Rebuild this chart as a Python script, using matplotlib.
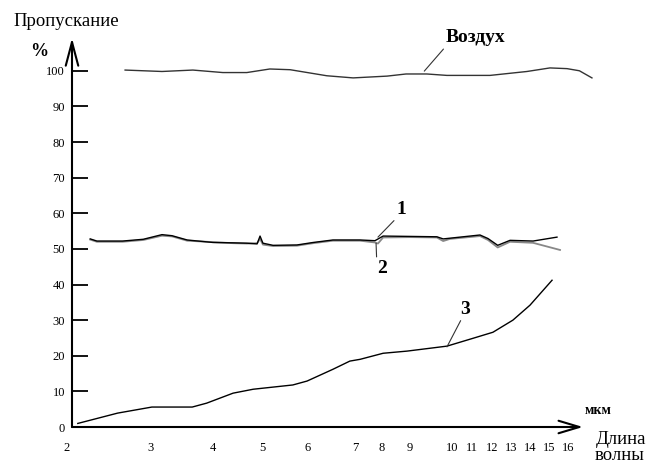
import numpy as np
import matplotlib.pyplot as plt

plt.rcParams["font.family"] = ["Liberation Serif", "DejaVu Serif"]

# wavelength ticks (мкм), hand-drawn axis so spacing is irregular
tick_wl = [2, 3, 4, 5, 6, 7, 8, 9, 10, 11, 12, 13, 14, 15, 16]
y_ticks = [0, 10, 20, 30, 40, 50, 60, 70, 80, 90, 100]

# Воздух
air_wl = [2.70, 3.19, 3.68, 4.20, 4.69, 5.17, 5.61, 6.40, 6.96, 8.18,
          8.86, 9.40, 9.88, 11.9, 13.84, 15.05, 15.95, 16.6, 17.26]
air_val = [100.2, 99.8, 100.2, 99.5, 99.5, 100.5, 100.3, 98.6, 98.0, 98.5,
           99.1, 99.1, 98.7, 98.7, 99.8, 100.8, 100.6, 100.0, 98.0]

# sample 1
c1_wl = [2.28, 2.36, 2.67, 2.92, 3.19, 3.35, 3.59, 4.0, 4.41, 4.69, 4.90,
         4.96, 5.02, 5.24, 5.76, 6.11, 6.53, 7.19, 7.74, 8.04, 9.0, 9.64,
         9.79, 9.95, 11.4, 11.8, 12.3, 12.95, 14.16, 15.42]
c1_val = [52.8, 52.2, 52.2, 52.7, 54.0, 53.7, 52.5, 51.8, 51.7, 51.6, 51.4,
          53.6, 51.6, 51.0, 51.1, 51.8, 52.5, 52.5, 52.3, 53.6, 53.5, 53.4,
          52.8, 53.0, 53.9, 52.9, 51.0, 52.4, 52.2, 53.3]

# sample 2
c2_wl = [2.28, 2.36, 2.67, 2.92, 3.19, 3.35, 3.59, 4.0, 4.41, 4.69, 4.90,
         4.96, 5.02, 5.24, 5.76, 6.11, 6.53, 7.19, 7.74, 7.85, 8.04, 9.0,
         9.64, 9.79, 9.95, 11.4, 11.8, 12.3, 12.95, 14.16, 15.58]
c2_val = [52.6, 52.0, 52.0, 52.5, 53.7, 53.5, 52.3, 51.9, 51.6, 51.5, 51.6,
          52.8, 51.2, 50.8, 50.9, 51.6, 52.3, 52.3, 51.8, 51.5, 53.2, 53.3,
          53.2, 52.2, 52.8, 53.6, 52.5, 50.4, 52.0, 51.7, 49.7]

# sample 3
c3_wl = [2.13, 2.61, 3.03, 3.67, 3.90, 4.41, 4.82, 5.67, 5.98, 6.53, 6.89,
         7.19, 8.04, 8.89, 9.88, 11.05, 12.05, 13.1, 14.0, 15.16]
c3_val = [1.0, 3.9, 5.6, 5.6, 6.7, 9.5, 10.6, 11.8, 12.9, 16.2, 18.5,
          19.0, 20.7, 21.3, 22.7, 24.9, 26.6, 30.0, 34.2, 41.2]

# where each wavelength sits along the drawn axis (pixels in the scan)
knot_wl = np.array([1.0] + tick_wl + [18.0])
knot_pos = np.array([-16.0, 67, 150, 213, 262, 308, 355, 382, 410, 452,
                     472, 492, 511, 530, 549, 568, 606.0])


def fwd(w):
    return np.interp(w, knot_wl, knot_pos)


def inv(p):
    return np.interp(p, knot_pos, knot_wl)


W, H = 646, 463
fig = plt.figure(figsize=(W / 100, H / 100), dpi=100)
ax = fig.add_axes([72 / W, 1 - 427 / H, (583 - 72) / W, (427 - 38) / H])
ax.set_xscale("function", functions=(fwd, inv))
ax.set_xlim(inv(72), inv(583))
ax.set_ylim(0, 109.2)

for s in ax.spines.values():
    s.set_visible(False)

# the air trace runs a little past the arrow tip in the original
ax.plot(air_wl, air_val, color="#333333", lw=1.0, clip_on=False)
ax.plot(c2_wl, c2_val, color="#888888", lw=1.3)
ax.plot(c1_wl, c1_val, color="black", lw=1.0)
ax.plot(c3_wl, c3_val, color="black", lw=1.0)

ax.set_yticks(y_ticks)
ax.set_yticklabels([str(v) for v in y_ticks], fontsize=9)
ax.tick_params(axis="y", direction="in", length=11.5, width=1.3, pad=5)
ax.set_xticks(tick_wl[1:])
ax.set_xticklabels([str(v) for v in tick_wl[1:]], fontsize=9)
ax.tick_params(axis="x", length=0, pad=11)
ax.annotate("2", xy=(tick_wl[0], 0), xytext=(0, -11), textcoords="offset points",
            ha="center", va="top", fontsize=9, annotation_clip=False)

# axis arrows
ax.annotate("", xy=(0, 1), xycoords="axes fraction", xytext=(0, 0),
            arrowprops=dict(arrowstyle="->,head_length=1.7,head_width=0.45",
                            lw=1.5, color="black", shrinkA=0, shrinkB=0,
                            mutation_scale=10))
ax.annotate("", xy=(1, 0), xycoords="axes fraction", xytext=(0, 0),
            arrowprops=dict(arrowstyle="->,head_length=1.5,head_width=0.45",
                            lw=1.5, color="black", shrinkA=0, shrinkB=0,
                            mutation_scale=10))

# curve labels
lead = dict(arrowstyle="-", lw=0.8, color="#333333", shrinkA=0, shrinkB=0)
ax.annotate("Воздух", xy=(9.34, 99.9), xytext=(37, 24), textcoords="offset points",
            ha="center", va="center", fontsize=14, fontweight="bold",
            arrowprops=dict(lead, relpos=(0, 0)), annotation_clip=False)
ax.annotate("1", xy=(7.85, 53.3), xytext=(17, 20), textcoords="offset points",
            ha="center", va="center", fontsize=14, fontweight="bold",
            arrowprops=dict(lead, relpos=(0, 0)))
ax.annotate("2", xy=(7.78, 51.6), xytext=(4, -18), textcoords="offset points",
            ha="center", va="center", fontsize=14, fontweight="bold",
            arrowprops=dict(lead, relpos=(0, 1)))
ax.annotate("3", xy=(9.88, 22.5), xytext=(13, 27), textcoords="offset points",
            ha="center", va="center", fontsize=14, fontweight="bold",
            arrowprops=dict(lead, relpos=(0.2, 0)))

# axis titles
fig.text(66 / W, 1 - 22 / H, "Пропускание", ha="center", va="center", fontsize=13.5)
fig.text(39 / W, 1 - 51 / H, "%", ha="center", va="center", fontsize=13, fontweight="bold")
fig.text(598 / W, 1 - 411 / H, "мкм", ha="center", va="center", fontsize=10, fontweight="bold")
fig.text(621 / W, 1 - 439 / H, "Длина", ha="center", va="center", fontsize=13.5)
fig.text(620 / W, 1 - 456 / H, "волны", ha="center", va="center", fontsize=13.5)

fig.savefig("out.png", dpi=100)
